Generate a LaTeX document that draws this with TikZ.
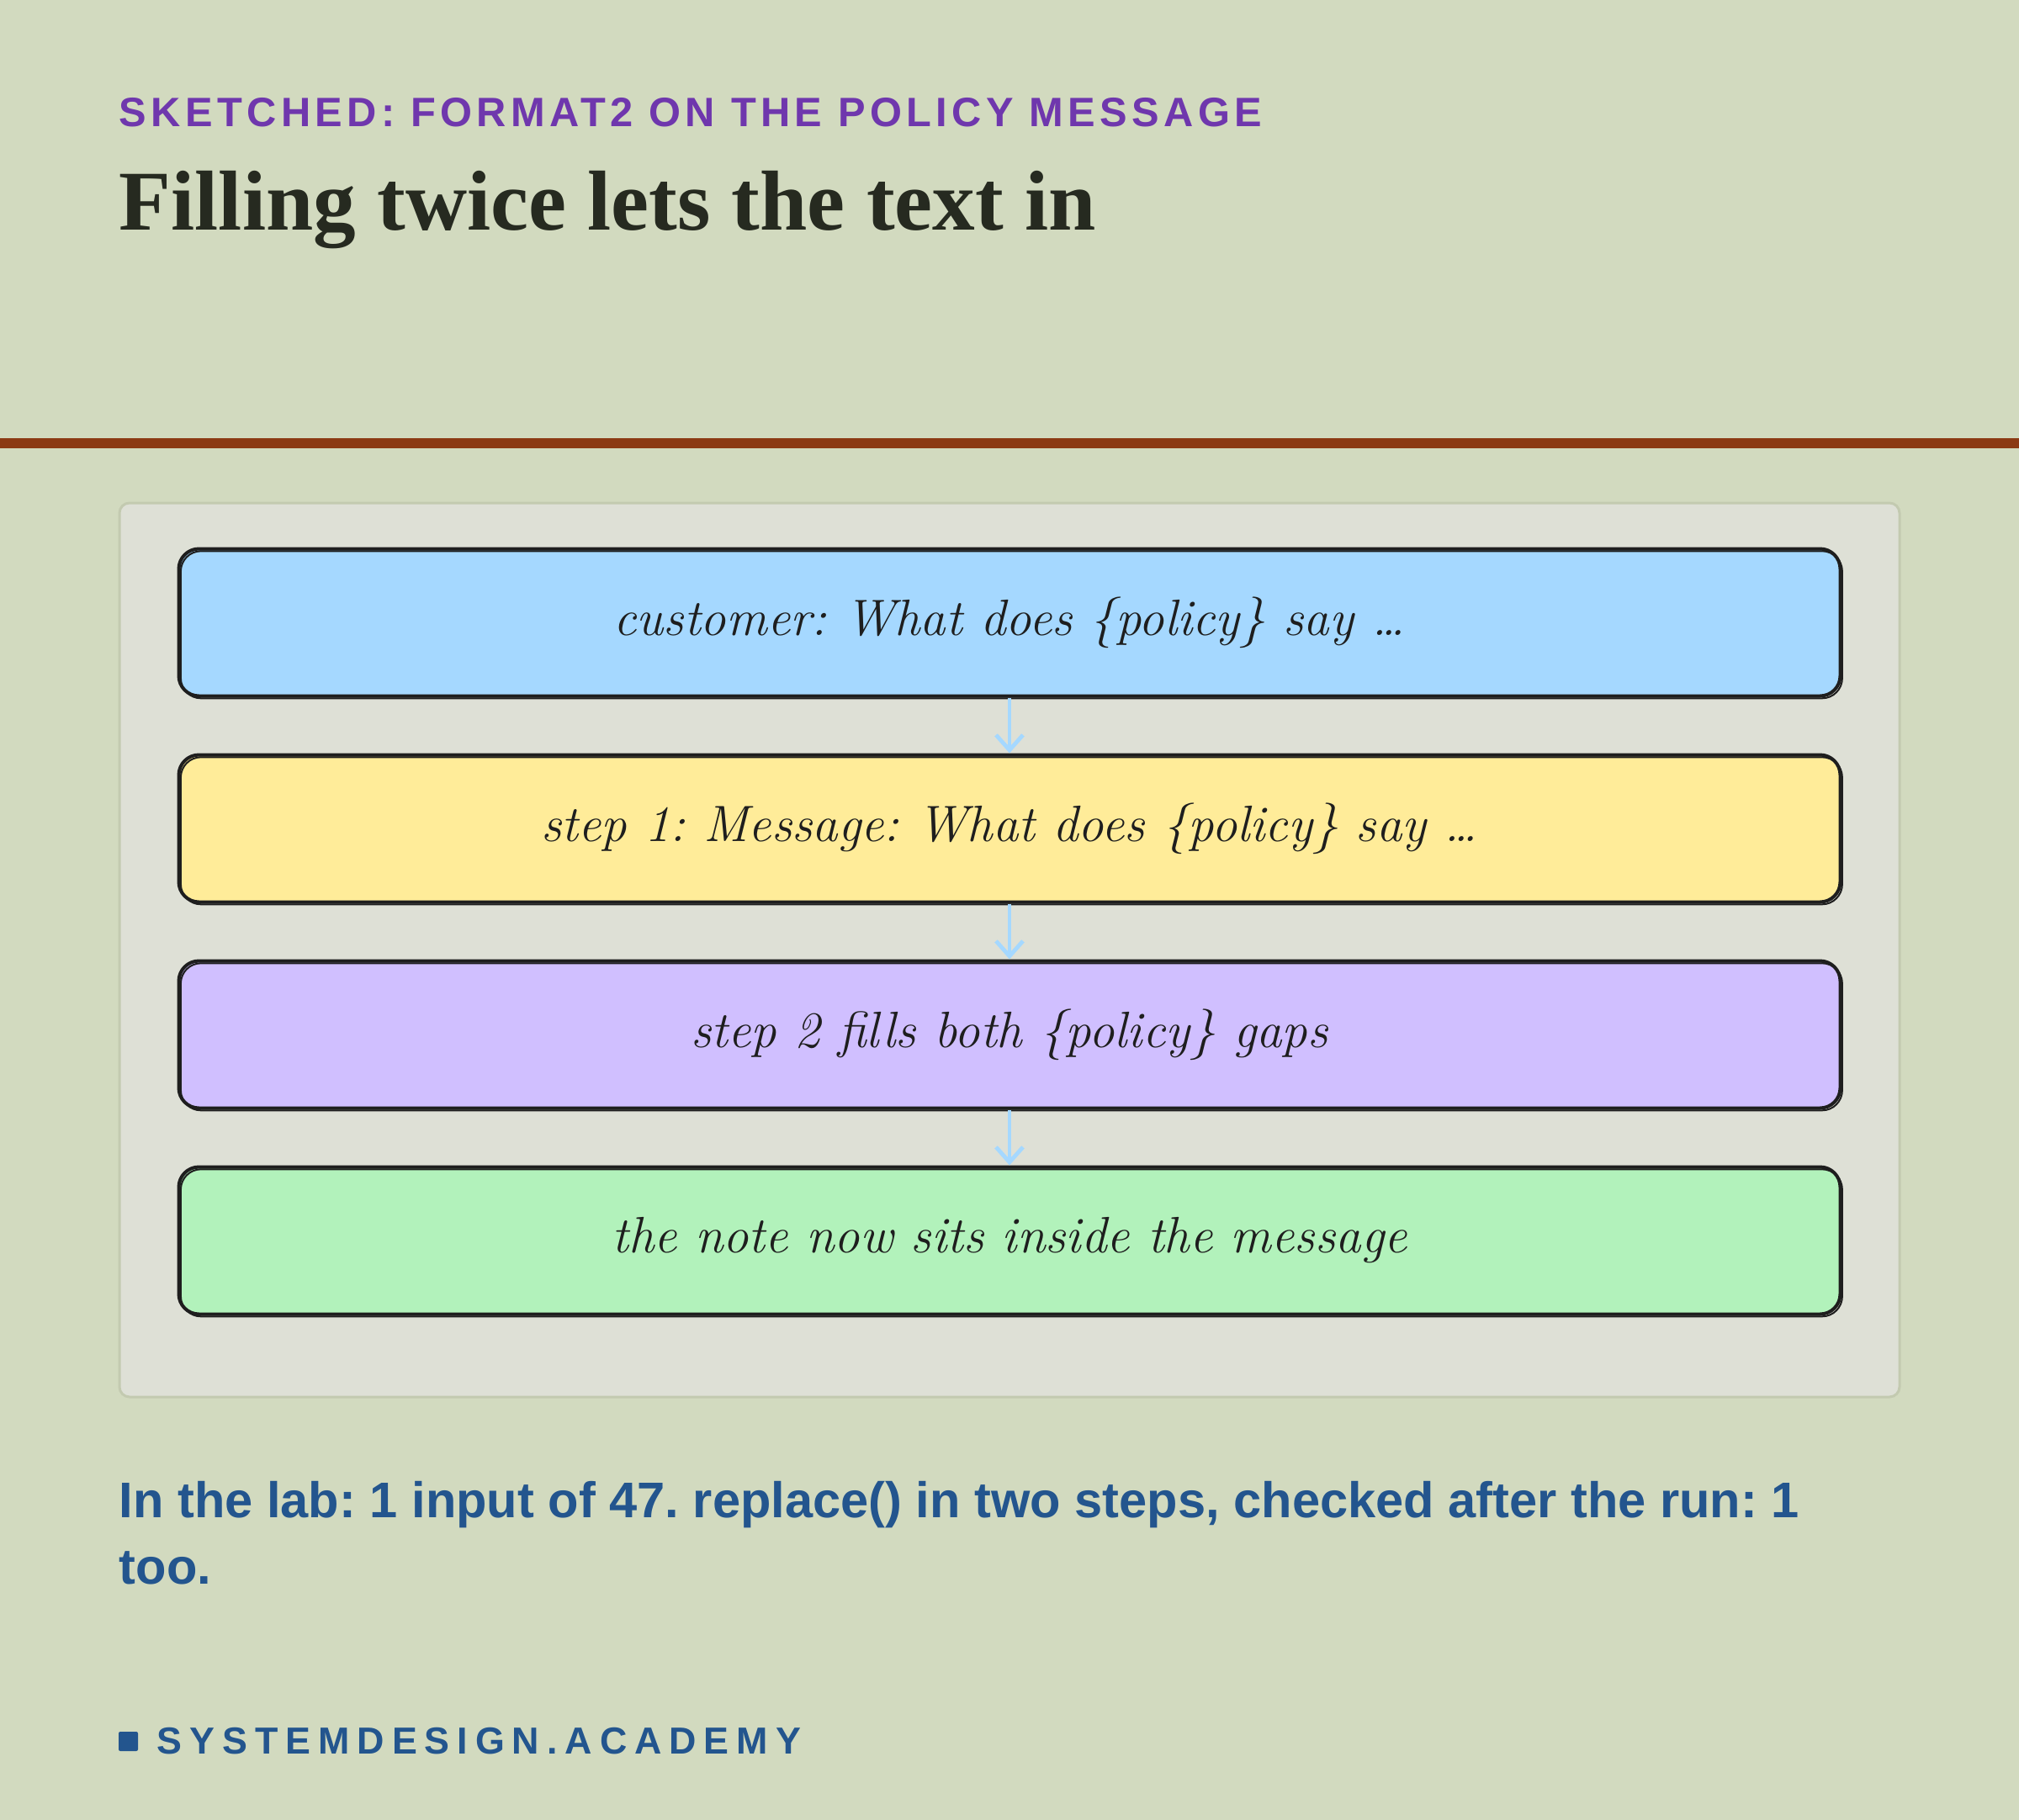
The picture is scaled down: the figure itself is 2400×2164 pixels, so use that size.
\documentclass[tikz,border=0pt]{standalone}
\usepackage{fontspec}
\setsansfont{Liberation Sans}
\newfontfamily\titlefont{Liberation Serif}
\newfontfamily\kickerfont[LetterSpace=11]{Liberation Sans}
\newfontfamily\brandfont[LetterSpace=20]{Liberation Sans}
\usetikzlibrary{positioning,arrows.meta}

\definecolor{bgsage}{HTML}{D2DABF}
\definecolor{panelfill}{HTML}{DEE0D6}
\definecolor{paneledge}{HTML}{C3CAB0}
\definecolor{kicker}{HTML}{6F37AD}
\definecolor{titleink}{HTML}{262A20}
\definecolor{rulebrown}{HTML}{8B3A14}
\definecolor{bodyblue}{HTML}{23558E}
\definecolor{inkblack}{HTML}{1E1E1E}
\definecolor{boxblue}{HTML}{A5D8FF}
\definecolor{boxyellow}{HTML}{FFEC99}
\definecolor{boxpurple}{HTML}{D0BFFF}
\definecolor{boxgreen}{HTML}{B2F2BB}

\tikzset{
  sketchbox/.style={draw=inkblack, line width=1pt, rounded corners=6pt,
    minimum width=493.75pt, minimum height=43.75pt, inner sep=0pt,
    font=\fontsize{15.2}{18}\selectfont\itshape, text=inkblack,
    postaction={draw=inkblack, line width=0.5pt,
      transform canvas={xshift=0.6pt, yshift=-0.7pt}}},
  flowarrow/.style={draw=boxblue, line width=1.2pt,
    -{Straight Barb[length=4.5pt, width=8pt, line width=1.2pt]}},
}

\begin{document}
\frenchspacing
\begin{tikzpicture}[x=0.25pt, y=-0.25pt]
   % page and header
   \fill[bgsage] (0,0) rectangle (2400,2164);
   \useasboundingbox (0,0) rectangle (2400,2164);
   \node (kicker) at (141,150) [anchor=base west, inner sep=0pt, text=kicker,
      font=\kickerfont\bfseries\fontsize{12.2}{14}\selectfont]
      {SKETCHED: FORMAT2 ON THE POLICY MESSAGE};
   \node (title) at (141,273) [anchor=base west, inner sep=0pt, text=titleink,
      font=\titlefont\bfseries\fontsize{25.3}{30}\selectfont]
      {Filling twice lets the text in};
   \draw[rulebrown, line width=3pt] (0,527) -- (2400,527);

   % panel with the four steps
   \draw[paneledge, fill=panelfill, line width=0.75pt, rounded corners=3pt]
      (142,598) rectangle (2258,1661);
   \node (cust) at (1200,740) [sketchbox, fill=boxblue]
      {customer: What does \{policy\} say \dots};
   \node (stepone) [sketchbox, fill=boxyellow, below=16.5pt of cust]
      {step 1: Message: What does \{policy\} say \dots};
   \node (steptwo) [sketchbox, fill=boxpurple, below=16.5pt of stepone]
      {step 2 fills both \{policy\} gaps};
   \node (result) [sketchbox, fill=boxgreen, below=16.5pt of steptwo]
      {the note now sits inside the message};
   \draw[flowarrow] (cust) -- (stepone);
   \draw[flowarrow] (stepone) -- (steptwo);
   \draw[flowarrow] (steptwo) -- (result);

   % footer
   \node (lab) at (141,1804) [anchor=base west, inner sep=0pt, text=bodyblue,
      font=\sffamily\bfseries\fontsize{14.9}{19.75}\selectfont]
      {In the lab: 1 input of 47. replace() in two steps, checked after the run: 1};
   \node (labcont) at (141,1883) [anchor=base west, inner sep=0pt, text=bodyblue,
      font=\sffamily\bfseries\fontsize{14.9}{19.75}\selectfont] {too.};
   \fill[bodyblue, rounded corners=0.5pt] (141,2059) rectangle (164,2082);
   \node (brand) at (186,2085) [anchor=base west, inner sep=0pt, text=bodyblue,
      font=\brandfont\bfseries\fontsize{11.2}{13}\selectfont]
      {SYSTEMDESIGN.ACADEMY};
\end{tikzpicture}
\end{document}
